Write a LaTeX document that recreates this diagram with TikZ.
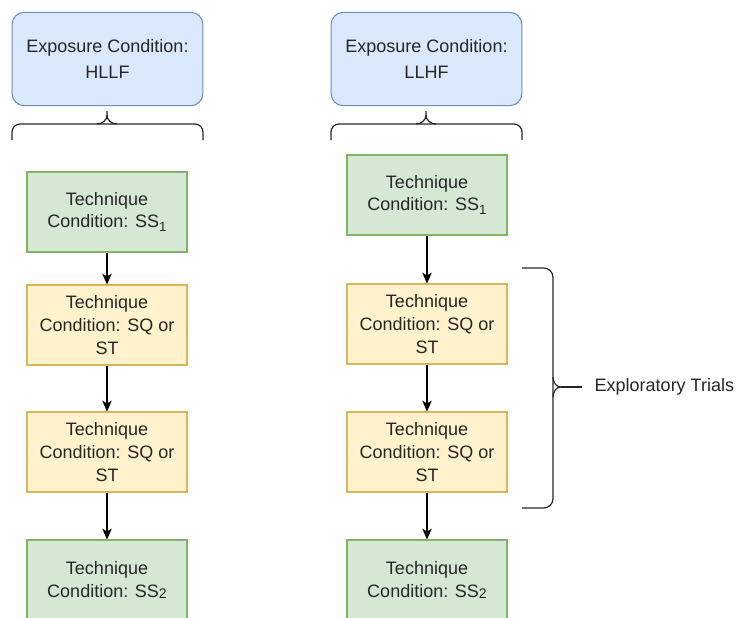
\documentclass[tikz,border=0pt]{standalone}
\usepackage{fontspec}
\setmainfont{Liberation Sans}
\usepackage{tikz}
\usetikzlibrary{arrows.meta}

\definecolor{expfill}{HTML}{DAE8FC}
\definecolor{expdraw}{HTML}{6C8EBF}
\definecolor{ssfill}{HTML}{D5E8D4}
\definecolor{ssdraw}{HTML}{82B366}
\definecolor{sqfill}{HTML}{FFF2CC}
\definecolor{sqdraw}{HTML}{D6B656}

\newcommand{\subone}{\raisebox{-3pt}{\fontsize{10}{10}\selectfont 1}}
\newcommand{\subtwo}{\raisebox{-1pt}{\fontsize{10.5}{10}\selectfont 2}}

\tikzset{
  expbox/.style={draw=expdraw, fill=expfill, rounded corners=9pt, line width=0.8pt,
    minimum width=143pt, minimum height=70pt, align=center,
    font=\fontsize{13.5}{19}\selectfont, text=black!85},
  ssbox/.style={draw=ssdraw, fill=ssfill, line width=0.8pt,
    minimum width=120pt, minimum height=60pt, align=center,
    font=\fontsize{13.5}{17}\selectfont, text=black!85},
  sqbox/.style={ssbox, draw=sqdraw, fill=sqfill},
  arr/.style={-{Stealth[length=8pt,width=7pt,inset=2pt]}, line width=0.9pt},
  brace/.style={line width=0.9pt, black!85}
}

\begin{document}
\begin{tikzpicture}[x=0.75pt,y=-0.75pt]
\clip (0,0) rectangle (741,617);

% left column
\node [expbox] (hllf) at (107.5,59) {Exposure Condition:\\HLLF};
\node [ssbox] (lss1) at (107,212) {Technique\\Condition: SS\subone};
\node [sqbox] (lsq1) at (107,325) {Technique\\Condition: SQ or\\ST};
\node [sqbox] (lsq2) at (107,452) {Technique\\Condition: SQ or\\ST};
\node [ssbox] (lss2) at (107,580) {Technique\\Condition: SS\subtwo};

\draw [arr] (lss1) -- (lsq1);
\draw [arr] (lsq1) -- (lsq2);
\draw [arr] (lsq2) -- (lss2);

% right column
\node [expbox] (llhf) at (426.5,59) {Exposure Condition:\\LLHF};
\node [ssbox] (rss1) at (427,195) {Technique\\Condition: SS\subone};
\node [sqbox] (rsq1) at (427,324) {Technique\\Condition: SQ or\\ST};
\node [sqbox] (rsq2) at (427,452) {Technique\\Condition: SQ or\\ST};
\node [ssbox] (rss2) at (427,580) {Technique\\Condition: SS\subtwo};

\draw [arr] (rss1) -- (rsq1);
\draw [arr] (rsq1) -- (rsq2);
\draw [arr] (rsq2) -- (rss2);

% braces under the exposure boxes
\foreach \cx in {107,426} {
  \draw [brace, rounded corners=6] (\cx-95,140) |- (\cx,124) -| (\cx+96,140);
  \draw [brace] (\cx-10,124) to[out=0,in=-90] (\cx,115) -- (\cx,111);
  \draw [brace] (\cx+10,124) to[out=180,in=-90] (\cx,115);
}

% brace for the exploratory trials
\draw [brace, rounded corners=7] (522,268) -| (553,387) |- (522,508);
\draw [brace] (553,377) to[out=90,in=180] (553,377) to[out=-90,in=180] (561,387) to[out=180,in=90] (553,397);
\draw [brace] (561,387) -- (582,387);
\node [anchor=west, font=\fontsize{13.5}{17}\selectfont, text=black!85] (trials) at (590,387) {Exploratory Trials};

\end{tikzpicture}
\end{document}
